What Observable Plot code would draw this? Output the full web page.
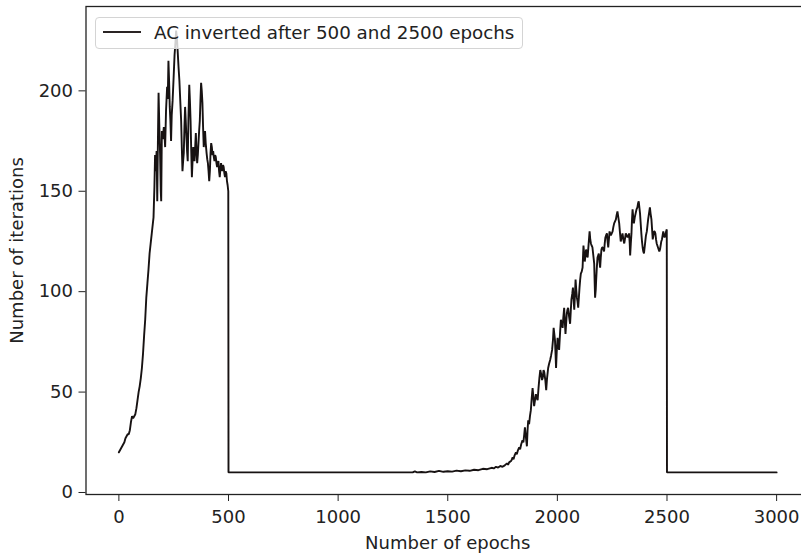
<!DOCTYPE html>
<html>
<head>
<meta charset="utf-8">
<script src="https://cdn.jsdelivr.net/npm/d3@7"></script>
<script src="https://cdn.jsdelivr.net/npm/@observablehq/plot@0.6"></script>
<style>
  html, body { margin: 0; padding: 0; background: #fff; overflow: hidden; }
  #wrap { position: relative; width: 801px; height: 553px; }
  #wrap svg { overflow: hidden; }
  #legend {
    position: absolute; left: 95px; top: 17px; width: 428px; height: 32px;
    border: 1px solid #d4d4d4; border-radius: 4px; background: rgba(255,255,255,0.8);
    font-family: "DejaVu Sans", sans-serif; font-size: 18.3px; color: #222;
    box-sizing: border-box;
  }
  #legend .sw { position: absolute; left: 7px; top: 13px; width: 38px; height: 2px; background: #2a2424; }
  #legend .lbl { position: absolute; left: 58px; top: 3px; line-height: 24px; white-space: nowrap; }
</style>
</head>
<body>
<div id="wrap">
  <div id="chart"></div>
  <div id="legend"><div class="sw"></div><div class="lbl" id="legendText"></div></div>
</div>
<script>
const seriesName = "AC inverted after 500 and 2500 epochs";
const xLabel = "Number of epochs";
const yLabel = "Number of iterations";
const xTicks = [0, 500, 1000, 1500, 2000, 2500, 3000];
const yTicks = [0, 50, 100, 150, 200];

const epochs = [
  0,5,10,15,20,25,30,35,40,45,50,55,60,65,70,75,80,85,90,95,100,105,110,115,120,125,130,135,140,145,150,155,158,162,165,168,172,175,178,181,185,188,191,193,196,200,205,208,211,215,220,223,226,229,232,235,238,241,245,249,254,258,261,265,269,272,276,280,284,287,290,293,296,299,302,305,308,311,314,317,321,324,327,330,333,336,339,342,345,348,351,354,357,360,363,366,369,372,375,378,381,384,387,390,393,396,400,403,406,409,412,415,418,421,424,427,430,433,436,439,442,445,448,451,454,457,460,463,466,469,472,475,478,481,484,487,490,493,496,499,
  500,1000,1300,1340,1350,1360,1380,1400,1420,1440,1460,1480,1500,1520,1540,1560,1580,1600,1620,1640,1660,1680,1700,1710,1720,1730,1740,1750,1760,1770,1775,1780,1790,1796,1800,1805,1811,1815,1820,1826,1830,1835,1841,1845,1849,1852,1856,1861,1864,1867,1871,1875,1879,1883,1887,1891,1894,1898,1902,1906,1910,1914,1918,1922,1926,1930,1933,1937,1940,1945,1949,1953,1958,1962,1967,1971,1976,1980,1983,1986,1989,1992,1994,1997,
  2001,2004,2008,2012,2016,2020,2024,2027,2031,2034,2037,2040,2043,2046,2049,2053,2058,2061,2064,2068,2071,2074,2077,2080,2083,2086,2089,2092,2095,2098,2101,2104,2107,2111,2115,2119,2122,2125,2128,2131,2134,2138,2142,2147,2150,2153,2156,2160,2164,2168,2170,2172,2175,2177,2180,2183,2186,2189,2192,2195,2198,2201,2204,2207,2210,2213,2216,2219,2222,2226,2229,2232,2235,2238,2241,2244,2248,2252,2255,2259,2263,2267,2270,2274,2278,2282,2285,2289,2293,2297,2301,2305,2308,2312,2316,2320,2324,2327,2330,2332,2335,2338,2340,2343,2346,2349,2353,2357,2361,2365,2368,2371,2374,2377,2380,2383,2386,2389,2392,2395,2398,2401,2404,2408,2411,2414,2418,2422,2425,2429,2432,2435,2438,2441,2444,2447,2450,2453,2456,2459,2462,2465,2468,2471,2474,2477,2480,2483,2486,2489,2492,2496,2499,
  2500,3000
];
const iterations = [
  20,21,22,23,24,25,27,28,29,29,31,35,38,37,38,39,42,46,50,53,57,62,69,78,86,97,104,111,119,124,129,134,137,152,168,160,170,145,175,199,180,168,150,145,180,176,182,178,172,190,202,196,215,205,192,185,175,188,195,205,218,224,230,226,218,212,205,195,185,172,160,165,169,182,192,185,177,170,165,185,203,195,185,170,157,165,172,168,165,172,179,170,164,168,174,180,185,195,204,200,194,182,172,176,180,174,169,166,164,160,155,160,169,174,172,168,170,167,165,168,167,164,162,164,165,160,157,161,164,162,160,163,162,159,157,160,159,155,153,150,
  10,10,10,10,10.5,10,10.2,10,10.5,10.2,10.8,10.3,10.6,10.4,10.9,10.6,11,10.8,11.3,11.1,11.8,11.6,12.3,12,12.8,12.4,13.2,12.8,13.5,14.5,13.8,15,15.8,17.5,16.5,18.5,20,19,21,22.5,21.5,24,26,25,29,32.5,28,23,31,36,34,38,41,47,52,47,43,46,49,47,46,52,57,61,59,56,57,61,60,56,51,57,62,64,66,68,71,76,82,79,76,68,62,70,
  77,74,71,79,86,84,82,87,92,85,79,84,89,91,92,88,84,90,96,99,102,96,91,98,106,101,97,95,92,97,102,106,109,110,112,123,119,115,118,121,119,117,123,130,126,124,123,122,118,114,105,97,101,106,112,117,118,119,115,112,117,121,122,122,121,120,124,127,128,129,125,122,126,130,129,128,129,130,132,134,135,136,138,140,137,134,130,125,127,129,126,124,126,129,128,127,128,129,124,118,124,129,135,141,137,134,137,139,141,142,144,145,142,139,134,129,125,122,120,119,122,125,128,130,133,136,139,142,139,136,131,126,128,130,130,129,126,124,123,122,121,120,121,123,125,126,128,130,128,127,128,130,131,
  10,10
];

const data = epochs.map((e, i) => ({epoch: e, iter: iterations[i]}));

document.getElementById("legendText").textContent = seriesName;

const chart = Plot.plot({
  width: 801,
  height: 553,
  marginLeft: 85.5,
  marginRight: -8,
  marginTop: 6,
  marginBottom: 59,
  style: {fontFamily: "DejaVu Sans, sans-serif", fontSize: "18px", color: "#222", background: "white"},
  x: {domain: [-150, 3150], ticks: xTicks, tickFormat: d => String(d), tickSize: 7, tickPadding: 9, label: xLabel, labelAnchor: "center", labelOffset: 54, labelArrow: "none"},
  y: {domain: [-1, 242], ticks: yTicks, tickFormat: d => String(d), tickSize: 7, tickPadding: 6, label: yLabel, labelAnchor: "center", labelOffset: 76, labelArrow: "none"},
  marks: [
    Plot.line(data, {x: "epoch", y: "iter", stroke: "#171212", strokeWidth: 1.9, strokeLinejoin: "miter"}),
    Plot.frame({stroke: "#222", strokeWidth: 1.3})
  ]
});
document.getElementById("chart").appendChild(chart);
</script>
</body>
</html>
